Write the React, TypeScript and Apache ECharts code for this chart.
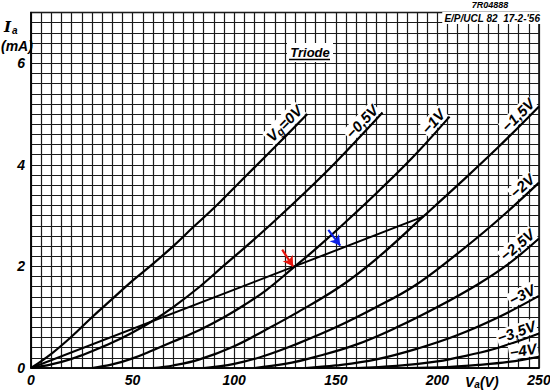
import React, { useEffect, useRef } from 'react';
import * as echarts from 'echarts';

// ---- data (Va in V, Ia in mA) ----
const xTicks = [0, 50, 100, 150, 200, 250];
const yTicks = [0, 2, 4, 6];

const vg0: number[][] = [[0, 0], [10, 0.28], [20, 0.62], [30, 1.0], [40, 1.36], [50, 1.72], [60, 2.05], [70, 2.4], [80, 2.78], [90, 3.15], [100, 3.55], [110, 3.95], [120, 4.35], [136, 5.0]];
const vgM05: number[][] = [[0, 0], [10, 0.07], [20, 0.18], [30, 0.33], [40, 0.5], [50, 0.7], [60, 0.93], [70, 1.2], [83, 1.6], [95, 2.02], [108, 2.47], [120, 2.9], [136, 3.5], [150, 4.05], [173, 5.03]];
const vgM1: number[][] = [[30, 0], [40, 0.07], [50, 0.19], [60, 0.35], [70, 0.52], [83, 0.75], [95, 1.0], [105, 1.24], [116, 1.54], [129, 1.97], [140, 2.34], [155, 2.88], [172, 3.52], [190, 4.24], [206, 4.95]];
const vgM15: number[][] = [[60, 0], [70, 0.05], [83, 0.17], [100, 0.43], [115, 0.74], [130, 1.07], [152, 1.6], [170, 2.15], [193, 2.98], [210, 3.6], [230, 4.35], [250, 5.15]];
const vgM2: number[][] = [[85, 0], [100, 0.08], [115, 0.24], [130, 0.46], [150, 0.8], [170, 1.2], [188, 1.6], [206, 2.13], [228, 2.85], [250, 3.65]];
const vgM25: number[][] = [[110, 0], [125, 0.08], [140, 0.22], [160, 0.46], [180, 0.8], [200, 1.2], [220, 1.65], [235, 2.05], [250, 2.55]];
const vgM3: number[][] = [[135, 0], [150, 0.05], [170, 0.17], [190, 0.38], [210, 0.65], [230, 1.0], [250, 1.42]];
const vgM35: number[][] = [[160, 0], [180, 0.04], [200, 0.13], [215, 0.25], [230, 0.4], [250, 0.68]];
const vgM4: number[][] = [[185, 0], [205, 0.02], [220, 0.06], [235, 0.12], [250, 0.22]];

const loadLine: number[][] = [[0, 0], [129, 1.99], [193, 2.98]];
const redArrow: number[][] = [[123.6, 2.33], [129, 2.0]];
const blueArrow: number[][] = [[146.3, 2.72], [152.2, 2.41]];

const curveLabels = ['Vg=0V', '−0,5V', '−1V', '−1,5V', '−2V', '−2,5V', '−3V', '−3,5V', '−4V'];
const curveData = [vg0, vgM05, vgM1, vgM15, vgM2, vgM25, vgM3, vgM35, vgM4];

const FONT = '"Liberation Sans", Arial, sans-serif';

export default function App() {
  const ref = useRef<HTMLDivElement>(null);
  useEffect(() => {
    document.body.style.margin = '0';
    const chart = echarts.init(ref.current!, null, { renderer: 'svg' });
    const labelStyle = {
      fontFamily: FONT, fontStyle: 'italic' as const, fontWeight: 'bold' as const, fontSize: 14, color: '#000',
    };
    const isTick = (v: number, ticks: number[]) => {
      const r = Math.round(v);
      return Math.abs(v - r) < 1e-6 && ticks.indexOf(r) >= 0;
    };
    const series: any[] = curveData.map((d, i) => ({
      type: 'line', name: curveLabels[i], data: d, smooth: 0.4, symbol: 'none', showSymbol: false,
      lineStyle: { color: '#000', width: 2.2 }, z: 3,
    }));
    series.push({
      type: 'line', name: 'load', data: loadLine, symbol: 'none', showSymbol: false,
      lineStyle: { color: '#000', width: 2 }, z: 3,
      markLine: {
        silent: true, symbol: ['none', 'arrow'], symbolSize: [9, 10], animation: false,
        label: { show: false },
        data: [
          [{ coord: redArrow[0], lineStyle: { color: '#e8140c', width: 2.2, type: 'solid' } }, { coord: redArrow[1] }],
          [{ coord: blueArrow[0], lineStyle: { color: '#0a1ee6', width: 2.2, type: 'solid' } }, { coord: blueArrow[1] }],
        ],
      },
    });
    const option: any = {
      animation: false,
      grid: { left: 31, right: 11, top: 12.5, bottom: 23, containLabel: false, outerBoundsMode: 'none', show: true, borderColor: '#000', borderWidth: 1.5, backgroundColor: '#fff' },
      xAxis: {
        type: 'value', min: 0, max: 250, interval: 5,
        axisLine: { show: true, lineStyle: { color: '#000', width: 1.5 } },
        axisTick: { show: false },
        splitLine: { show: true, lineStyle: { color: '#1a1a1a', width: 1.2 } },
        axisLabel: { ...labelStyle, margin: 5, formatter: (v: number) => (isTick(v, xTicks) ? String(Math.round(v)) : '') },
      },
      yAxis: {
        type: 'value', min: 0, max: 7, interval: 0.2,
        axisLine: { show: true, lineStyle: { color: '#000', width: 1.5 } },
        axisTick: { show: false },
        splitLine: { show: true, lineStyle: { color: '#1a1a1a', width: 1.2 } },
        axisLabel: { ...labelStyle, margin: 6, formatter: (v: number) => (isTick(v, yTicks) ? String(Math.round(v)) : '') },
      },
      series,
    };
    chart.setOption(option);

    const graphics: any[] = [];
    curveData.forEach((d, i) => {
      const n = d.length;
      const p2 = chart.convertToPixel({ gridIndex: 0 }, d[n - 1]) as number[];
      const p1 = chart.convertToPixel({ gridIndex: 0 }, d[n - 2]) as number[];
      const ang = Math.atan2(-(p2[1] - p1[1]), p2[0] - p1[0]);
      const off = 1.5;
      const x = p2[0] - Math.sin(ang) * off;
      const y = p2[1] - Math.cos(ang) * off;
      const base: any = {
        type: 'text', x, y, rotation: ang, z: 10,
        style: {
          align: 'right', verticalAlign: 'bottom', backgroundColor: '#fff', padding: [0, 1, 0, 1],
          font: `italic bold 15px ${FONT}`, fill: '#000',
        },
      };
      if (i === 0) {
        base.style.text = '{v|V}{g|g}{v|=0V}';
        base.style.rich = {
          v: { font: `italic bold 15px ${FONT}`, fill: '#000' },
          g: { font: `italic bold 11px ${FONT}`, fill: '#000', verticalAlign: 'bottom', padding: [6, 0, 0, 0] },
        };
      } else {
        base.style.text = curveLabels[i];
      }
      graphics.push(base);
    });

    // axis titles and annotations
    graphics.push({
      type: 'text', x: 4, y: 19, z: 10,
      style: { text: '{i|I}{a|a}', rich: { i: { font: `italic bold 15px "DejaVu Serif", serif`, fill: '#000' }, a: { font: `italic bold 10px ${FONT}`, fill: '#000', padding: [6, 0, 0, 1] } } },
    });
    graphics.push({
      type: 'text', x: 1, y: 39, z: 10,
      style: { text: '(mA)', font: `italic bold 14px ${FONT}`, fill: '#000' },
    });
    graphics.push({
      type: 'text', x: 465, y: 374, z: 10,
      style: { text: '{v|V}{a|a}{v|(V)}', rich: { v: { font: `italic bold 14px ${FONT}`, fill: '#000' }, a: { font: `italic bold 10px ${FONT}`, fill: '#000', padding: [5, 0, 0, 0] } } },
    });
    graphics.push({
      type: 'rect', shape: { x: 287, y: 43, width: 46, height: 19 }, z: 10,
      style: { fill: '#fff' },
    });
    graphics.push({
      type: 'text', x: 310, y: 52, z: 11,
      style: { text: 'Triode', align: 'center', verticalAlign: 'middle', font: `italic bold 13px ${FONT}`, fill: '#000' },
    });
    graphics.push({
      type: 'line', shape: { x1: 289, y1: 59.5, x2: 330, y2: 59.5 }, z: 11,
      style: { stroke: '#000', lineWidth: 1.5 },
    });
    graphics.push({
      type: 'text', x: 490, y: 5, z: 11,
      style: { text: '7R04888', align: 'center', verticalAlign: 'middle', font: `italic bold 9px ${FONT}`, fill: '#000' },
    });
    graphics.push({
      type: 'text', x: 541, y: 18, z: 11,
      style: { text: "E/P/UCL 82  17-2-'56", align: 'right', verticalAlign: 'middle', font: `italic bold 10px ${FONT}`, fill: '#000', backgroundColor: '#fff', padding: [1, 1, 1, 2] },
    });
    chart.setOption({ graphic: graphics });

    return () => chart.dispose();
  }, []);
  return <div ref={ref} style={{ width: 550, height: 391 }} />;
}
